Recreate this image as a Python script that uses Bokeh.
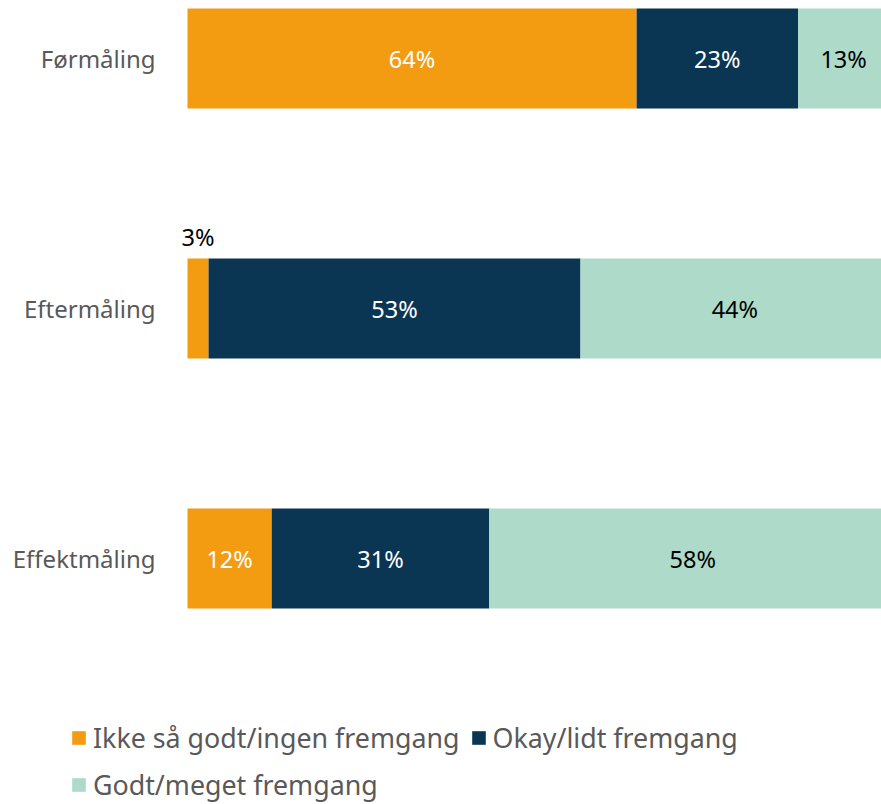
from bokeh.plotting import figure
from bokeh.models import ColumnDataSource, Range1d, Legend, LegendItem
from bokeh.core.properties import value
from bokeh.embed import file_html
from bokeh.resources import INLINE

categories = ["Førmåling", "Eftermåling", "Effektmåling"]
series = ["Ikke så godt/ingen fremgang", "Okay/lidt fremgang", "Godt/meget fremgang"]
ikke = [64, 3, 12]
okay = [23, 53, 31]
godt = [13, 44, 58]
colors = ["#F39C12", "#0A3553", "#ADDAC9"]
label_colors = ["white", "white", "black"]

FONT = "Noto Sans"
ypos = list(range(len(categories)))
src = ColumnDataSource(dict(y=ypos, a=ikke, b=okay, c=godt, cat=categories))

# frame spans the whole canvas; value 0 sits at x=187px (7.017 px per %)
p = figure(width=881, height=804, output_backend="svg", toolbar_location=None,
           x_range=Range1d(-26.65, 98.9), y_range=Range1d(2.984, -0.232),
           min_border_left=0, min_border_right=0, min_border_top=0, min_border_bottom=0,
           x_axis_location=None, y_axis_location=None)
p.outline_line_color = None
p.grid.visible = False

renderers = p.hbar_stack(["a", "b", "c"], y="y", height=0.4, color=colors,
                         line_color=None, source=src)

# category labels (left of the bars)
p.text(x=-4.56, y="y", text="cat", source=src, text_align="right", text_baseline="middle",
       text_color="#595959", text_font=value(FONT), text_font_size=value("24px"))

# value labels
ins = dict(x=[], y=[], t=[], col=[])
outs = dict(x=[], y=[], t=[], col=[])
for i in range(len(categories)):
    start = 0
    for vals, lc in zip([ikke, okay, godt], label_colors):
        v = vals[i]
        d = outs if v < 5 else ins
        d["x"].append(start + v / 2)
        d["y"].append(ypos[i])
        d["t"].append(f"{v}%")
        d["col"].append(lc if v >= 5 else "black")
        start += v

p.text(x="x", y="y", text="t", text_color="col", source=ColumnDataSource(ins),
       text_align="center", text_baseline="middle",
       text_font=value(FONT), text_font_size=value("23.5px"))
p.text(x="x", y="y", text="t", text_color="col", source=ColumnDataSource(outs),
       text_align="center", text_baseline="middle", y_offset=-72,
       text_font=value(FONT), text_font_size=value("23.5px"))

def mk_legend(items, loc):
    return Legend(items=items, orientation="horizontal", location=loc,
                  glyph_width=17, glyph_height=17, label_standoff=6, spacing=10,
                  padding=0, margin=0, border_line_color=None, background_fill_alpha=0,
                  label_text_font=FONT, label_text_font_size="26.8px",
                  label_text_color="#595959", label_height=24)

items = [LegendItem(label=s, renderers=[r]) for s, r in zip(series, renderers)]
p.add_layout(mk_legend(items[:2], (70, 48)), "center")
p.add_layout(mk_legend(items[2:], (70, 1)), "center")

open("out.html", "w").write(file_html(p, INLINE))
